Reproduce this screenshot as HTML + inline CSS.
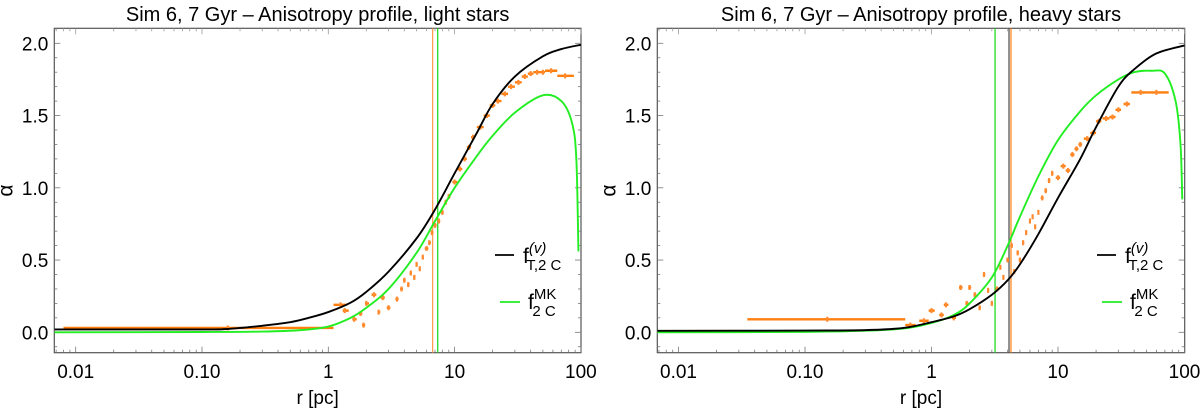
<!DOCTYPE html>
<html><head><meta charset="utf-8">
<style>
body{margin:0;background:#fff;width:1200px;height:409px;overflow:hidden}
svg{display:block;font-family:"Liberation Sans",sans-serif}
</style></head>
<body>
<svg id="fig" width="1200" height="409"></svg>
<script>
// ---------- data ----------
const xTickVals=[0.01,0.1,1,10,100];
const xTickLabels=["0.01","0.10","1","10","100"];
const yTickVals=[0,0.5,1,1.5,2];
const yTickLabels=["0.0","0.5","1.0","1.5","2.0"];

const leftBlackR=[0.0068,0.1,0.15,0.2,0.3,0.5,0.7,1,1.5,2,3,5,7,10,15,20,30,50,70,100];
const leftBlackA=[0.02,0.02,0.022,0.03,0.045,0.07,0.1,0.14,0.205,0.28,0.42,0.65,0.85,1.1,1.38,1.58,1.77,1.91,1.96,1.99];
const leftGreenR=[0.0068,0.1,0.3,0.6,1,1.5,2,3,5,7,10,15,20,30,50,70,85,92,95.6];
const leftGreenA=[0,0.002,0.005,0.015,0.04,0.1,0.17,0.3,0.55,0.77,1.0,1.22,1.36,1.52,1.64,1.6,1.45,1.2,0.56];
const leftDataR=[0.16,1.25,1.35,1.6,1.8,1.9,2.0,2.3,2.5,2.7,3.0,3.5,3.8,4.0,4.3,4.5,4.8,5.0,5.3,5.6,6.0,6.3,6.6,7.0,7.5,8,8.5,9,10,11,12,13,14,16,18,20,22,25,28,32,36,40,45,50,58,75];
const leftDataA=[0.03,0.19,0.15,0.09,0.13,0.05,0.2,0.26,0.14,0.24,0.17,0.23,0.3,0.36,0.33,0.41,0.38,0.47,0.44,0.52,0.58,0.62,0.69,0.74,0.77,0.83,0.9,0.94,1.04,1.13,1.2,1.28,1.35,1.42,1.5,1.57,1.6,1.65,1.7,1.73,1.77,1.79,1.8,1.8,1.81,1.775];
const leftDataLo=[0.008,1.1,1.3,1.55,1.75,1.85,1.95,2.2,2.45,2.6,2.9,3.4,3.7,3.9,4.2,4.4,4.7,4.9,5.2,5.5,5.8,6.2,6.5,6.8,7.3,7.8,8.3,8.8,9.6,10.5,11.5,12.5,13.5,15,17,19,21,23.5,26.5,30,34,38,42,47,52,65];
const leftDataHi=[1.1,1.4,1.45,1.68,1.86,1.96,2.1,2.4,2.58,2.8,3.1,3.6,3.9,4.1,4.4,4.6,4.9,5.1,5.4,5.7,6.2,6.5,6.8,7.2,7.7,8.2,8.7,9.3,10.5,11.5,12.5,13.5,14.5,17,19,21,23.5,26.5,30,34,38,42,47,52,65,88];
const leftVR=[6.7,7.35];

const rightBlackR=[0.0068,0.1,0.3,0.6,1,1.5,2,3,4,5,7,10,15,20,30,40,60,100];
const rightBlackA=[0.01,0.012,0.015,0.03,0.07,0.11,0.16,0.26,0.36,0.47,0.68,0.93,1.2,1.42,1.7,1.82,1.93,1.985];
const rightGreenR=[0.0068,0.1,0.5,1,1.5,2,3,4,5,7,10,15,20,30,40,55,70,85,93,96];
const rightGreenA=[0,0.003,0.02,0.065,0.12,0.2,0.38,0.6,0.8,1.08,1.33,1.53,1.64,1.75,1.8,1.81,1.79,1.6,1.3,0.92];
const rightDataR=[0.15,0.68,0.87,1.0,1.2,1.3,1.5,1.7,1.9,2.0,2.2,2.4,2.6,2.8,3.0,3.3,3.5,3.7,4.0,4.3,4.5,4.8,5.0,5.3,5.6,6.0,6.3,6.6,7.0,7.5,8,8.5,9,10,11,12,13,14,15,17,19,21,24,27,30,35,45,60];
const rightDataA=[0.09,0.05,0.08,0.15,0.12,0.19,0.1,0.31,0.2,0.31,0.26,0.17,0.4,0.29,0.2,0.3,0.45,0.38,0.5,0.6,0.42,0.55,0.5,0.62,0.69,0.77,0.8,0.73,0.83,0.93,0.98,1.05,1.1,1.07,1.15,1.12,1.23,1.27,1.3,1.34,1.38,1.46,1.48,1.49,1.54,1.58,1.66,1.66];
const rightDataLo=[0.035,0.62,0.8,0.95,1.15,1.25,1.45,1.65,1.85,1.95,2.15,2.35,2.55,2.75,2.95,3.2,3.45,3.65,3.9,4.2,4.4,4.7,4.9,5.2,5.5,5.9,6.2,6.5,6.9,7.3,7.8,8.3,8.8,9.6,10.5,11.5,12.5,13.5,14.5,16,18,20,22.5,25.5,28.5,33,38,52];
const rightDataHi=[0.62,0.75,0.95,1.06,1.25,1.36,1.56,1.76,1.96,2.06,2.26,2.46,2.66,2.86,3.06,3.4,3.56,3.76,4.1,4.4,4.6,4.9,5.1,5.4,5.7,6.1,6.4,6.7,7.1,7.7,8.2,8.7,9.2,10.4,11.5,12.5,13.5,14.5,15.5,18,20,22,25.5,28.5,31.5,37,52,75];
const rightVR=[3.18,4.1,4.25];
const rightVColors=["#22dd22","#555555","#ff8a20"];

// ---------- drawing ----------
const NS="http://www.w3.org/2000/svg";
const svg=document.getElementById('fig');
function mk(tag,attrs,parent){const e=document.createElementNS(NS,tag);for(const k in attrs)e.setAttribute(k,attrs[k]);(parent||svg).appendChild(e);return e;}
function smoothPath(pts){
  let d='M'+pts[0][0].toFixed(2)+','+pts[0][1].toFixed(2);
  for(let i=0;i<pts.length-1;i++){
    const p0=pts[Math.max(0,i-1)],p1=pts[i],p2=pts[i+1],p3=pts[Math.min(pts.length-1,i+2)];
    const c1x=p1[0]+(p2[0]-p0[0])/6,c1y=p1[1]+(p2[1]-p0[1])/6;
    const c2x=p2[0]-(p3[0]-p1[0])/6,c2y=p2[1]-(p3[1]-p1[1])/6;
    d+=` C${c1x.toFixed(2)},${c1y.toFixed(2)} ${c2x.toFixed(2)},${c2y.toFixed(2)} ${p2[0].toFixed(2)},${p2[1].toFixed(2)}`;
  }
  return d;
}

function panel(cfg){
  const g=mk('g',{});
  
  
  const L=cfg.left,R=cfg.right,T=28.3,B=352.7;
  const x0=cfg.x001,dec=cfg.dec;
  const X=r=>x0+(Math.log10(r)+2)*dec;
  const Y=a=>332.3-a*144.5;
  const clip='clip'+cfg.name;
  const cp=mk('clipPath',{id:clip},g);mk('rect',{x:L,y:T,width:R-L,height:B-T},cp);
  const t=mk('text',{x:(L+R)/2,y:21,'text-anchor':'middle','font-size':'20',fill:'#000'},g);
  t.textContent=cfg.title;
  
  
  const fr=mk('rect',{x:L,y:T,width:R-L,height:B-T,fill:'none',stroke:'#555','stroke-width':1.2},g);
  
  
  for(let d=-3;d<=2;d++){for(let m=1;m<10;m++){const r=m*Math.pow(10,d);const x=X(r);if(x<L||x>R)continue;const len=m===1?6:3;
    mk('line',{x1:x,y1:B,x2:x,y2:B-len,stroke:'#777','stroke-width':0.8},g);
    mk('line',{x1:x,y1:T,x2:x,y2:T+len,stroke:'#999','stroke-width':0.8},g);}}
  xTickVals.forEach((v,i)=>{const tx=mk('text',{x:X(v),y:378,'text-anchor':'middle','font-size':'19',fill:'#000'},g);tx.textContent=xTickLabels[i];
    
    });
  for(let k=-1;k<=21;k++){const a=k/10;const y=Y(a);if(y<T||y>B)continue;const len=(k%5===0)?6:3;
    mk('line',{x1:L,y1:y,x2:L+len,y2:y,stroke:'#777','stroke-width':0.8},g);
    mk('line',{x1:R,y1:y,x2:R-len,y2:y,stroke:'#777','stroke-width':0.8},g);}
  yTickVals.forEach((v,i)=>{const ty=mk('text',{x:L-6,y:Y(v)+7,'text-anchor':'end','font-size':'19',fill:'#000'},g);ty.textContent=yTickLabels[i];
    
    });
  const xl=mk('text',{x:(L+R)/2,y:404,'text-anchor':'middle','font-size':'19',fill:'#000'},g);xl.textContent='r [pc]';
  
  
  const yl=mk('text',{x:0,y:0,'text-anchor':'middle','font-size':'21',fill:'#000',transform:`translate(${L-42},${(T+B)/2}) rotate(-90)`},g);yl.textContent='α';
  
  
  const pg=mk('g',{'clip-path':`url(#${clip})`},g);
  cfg.vr.forEach((r,i)=>{const ln=mk('line',{x1:X(r),y1:T,x2:X(r),y2:B,stroke:cfg.vc[i],'stroke-width':1.3},pg);
    
    });
  const dg=mk('g',{},pg);
  
  
  cfg.dr.forEach((r,i)=>{const y=Y(cfg.da[i]);
    const e=mk('line',{x1:X(cfg.dlo[i]),y1:y,x2:X(cfg.dhi[i]),y2:y,stroke:'#ff7f0e','stroke-width':2.4},dg);
    
    
    mk('line',{x1:X(r),y1:y-2.5,x2:X(r),y2:y+2.5,stroke:'#ff8a30','stroke-width':2.2},dg);});
  function curve(rs,as,col,name){const pts=rs.map((r,i)=>[X(r),Y(as[i])]);
    const p=mk('path',{d:smoothPath(pts),fill:'none',stroke:col,'stroke-width':1.9,'stroke-linejoin':'round'},pg);
    
    }
  curve(cfg.gr,cfg.ga,'#22ee22','mk-model-curve');
  curve(cfg.br,cfg.ba,'#000','tv-model-curve');
  const lg=mk('g',{},g);
  
  
  const lx=cfg.legX;
  mk('line',{x1:lx,y1:255,x2:lx+19,y2:255,stroke:'#000','stroke-width':1.8},lg);
  const t1=mk('text',{x:lx+28,y:263,'font-size':'21',fill:'#000'},lg);
  t1.innerHTML='f<tspan font-size="15" dy="-10" font-style="italic">(v)</tspan><tspan font-size="15" dx="-20" dy="17">T,2 C</tspan>';
  
  
  mk('line',{x1:lx+5,y1:302,x2:lx+25,y2:302,stroke:'#22ee22','stroke-width':1.8},lg);
  const t2=mk('text',{x:lx+33,y:309,'font-size':'21',fill:'#000'},lg);
  t2.innerHTML='f<tspan font-size="15" dy="-10">MK</tspan><tspan font-size="15" dx="-24" dy="17">2 C</tspan>';
  
  
}

panel({name:'light-stars-panel',title:'Sim 6, 7 Gyr – Anisotropy profile, light stars',left:54.3,right:581,x001:75.7,dec:126.3,
  br:leftBlackR,ba:leftBlackA,gr:leftGreenR,ga:leftGreenA,dr:leftDataR,da:leftDataA,dlo:leftDataLo,dhi:leftDataHi,
  vr:leftVR,vc:["#ffa050","#22dd22"],legX:495});
panel({name:'heavy-stars-panel',title:'Sim 6, 7 Gyr – Anisotropy profile, heavy stars',left:657.3,right:1184.7,x001:678.5,dec:126.5,
  br:rightBlackR,ba:rightBlackA,gr:rightGreenR,ga:rightGreenA,dr:rightDataR,da:rightDataA,dlo:rightDataLo,dhi:rightDataHi,
  vr:rightVR,vc:rightVColors,legX:1097});
</script>
</body></html>
